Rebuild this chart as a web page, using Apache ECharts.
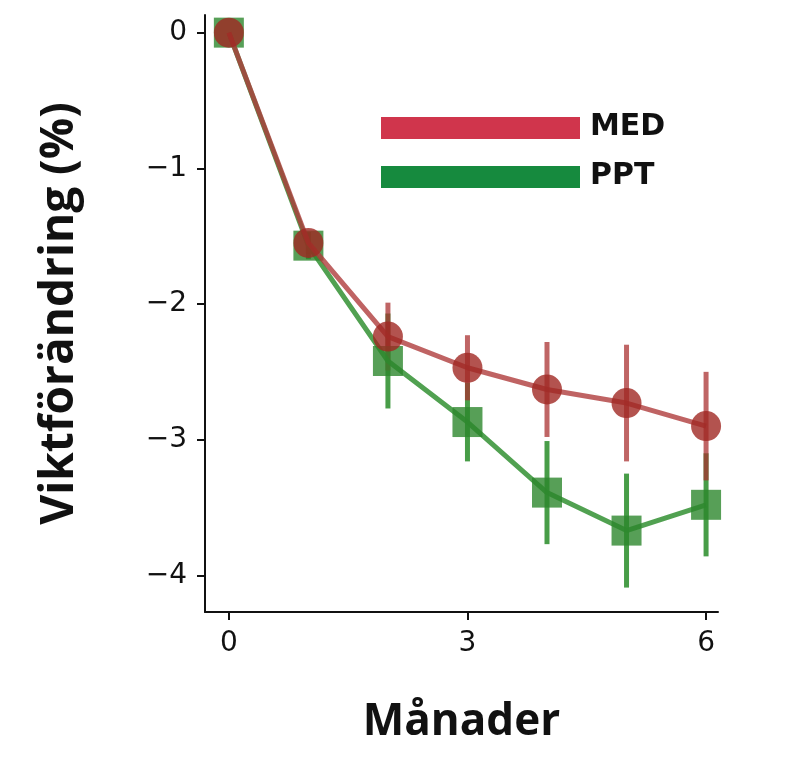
<!DOCTYPE html>
<html><head><meta charset="utf-8">
<script src="https://cdn.jsdelivr.net/npm/echarts@6/dist/echarts.min.js"></script>
<style>html,body{margin:0;background:#fff}#c{width:800px;height:764px}</style>
</head><body><div id="c"></div>
<script>
const months = [0,1,2,3,4,5,6];
const medMean = [0,-1.55,-2.24,-2.47,-2.63,-2.73,-2.90];
const medErr  = [0,0.08,0.25,0.24,0.35,0.43,0.40];
const pptMean = [0,-1.57,-2.42,-2.87,-3.39,-3.67,-3.48];
const pptErr  = [0,0.10,0.35,0.29,0.38,0.42,0.38];
const xTicks = [0,3,6];
const yTicks = [0,-1,-2,-3,-4];

function errSeries(mean, err, color){
  return {type:'custom', z:1, data: months.map((m,i)=>[m, mean[i]-err[i], mean[i]+err[i]]),
    renderItem:(p,api)=>{
      const a=api.coord([api.value(0),api.value(1)]), b=api.coord([api.value(0),api.value(2)]);
      return {type:'line', shape:{x1:a[0],y1:a[1],x2:b[0],y2:b[1]}, style:{stroke:color,lineWidth:5}};
    }};
}
const chart = echarts.init(document.getElementById('c'));
chart.setOption({
  animation:false,
  grid:{left:205,right:82,top:15,bottom:152},
  xAxis:{type:'value',min:-0.3,max:6.15,position:'bottom',
    axisLine:{show:true,onZero:false,lineStyle:{color:'#111',width:2}},
    axisTick:{show:true,customValues:xTicks,length:8,lineStyle:{color:'#111',width:2}},
    axisLabel:{customValues:xTicks,fontSize:28,color:'#111',margin:18,fontFamily:'DejaVu Sans'},
    splitLine:{show:false},
    name:'Månader',nameLocation:'middle',nameGap:88,
    nameTextStyle:{fontSize:44,fontWeight:'bold',color:'#111',fontFamily:'Open Sans'}},
  yAxis:{type:'value',min:-4.27,max:0.13,position:'left',
    axisLine:{show:true,onZero:false,lineStyle:{color:'#111',width:2}},
    axisTick:{show:true,customValues:yTicks,length:8,lineStyle:{color:'#111',width:2}},
    axisLabel:{customValues:yTicks,fontSize:28,color:'#111',margin:18,fontFamily:'DejaVu Sans',
      formatter:v=>String(v).replace('-','\u2212')},
    splitLine:{show:false},
    name:'Viktförändring (%)',nameLocation:'middle',nameGap:122,
    nameTextStyle:{fontSize:46,fontWeight:'bold',color:'#111',fontFamily:'Open Sans'}},
  series:[
    errSeries(pptMean,pptErr,'rgba(40,140,40,0.85)'),
    errSeries(medMean,medErr,'rgba(170,50,50,0.75)'),
    {type:'line',z:2,data:months.map((m,i)=>[m,pptMean[i]]),symbol:'rect',symbolSize:30,
      lineStyle:{color:'rgba(50,145,50,0.85)',width:5},
      itemStyle:{color:'rgba(45,135,45,0.8)'}},
    {type:'line',z:3,data:months.map((m,i)=>[m,medMean[i]]),symbol:'circle',symbolSize:30,
      lineStyle:{color:'rgba(175,60,60,0.8)',width:5},
      itemStyle:{color:'rgba(160,40,35,0.8)'}}
  ],
  graphic:[
    {type:'rect',shape:{x:381,y:117,width:199,height:22},style:{fill:'#d0354c'}},
    {type:'rect',shape:{x:381,y:166,width:199,height:22},style:{fill:'#168a3e'}},
    {type:'text',x:590,y:112,style:{text:'MED',fontSize:30,fontWeight:'bold',fill:'#111',fontFamily:'DejaVu Sans'}},
    {type:'text',x:590,y:161,style:{text:'PPT',fontSize:30,fontWeight:'bold',fill:'#111',fontFamily:'DejaVu Sans'}}
  ]
});
</script></body></html>
